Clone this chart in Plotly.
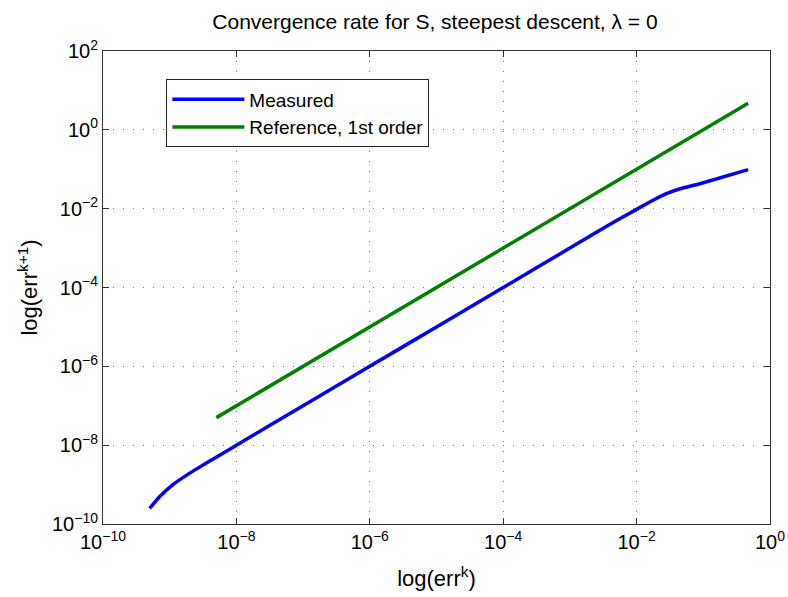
import plotly.graph_objects as go

# Data
measured_x = [5e-10, 7.1e-10, 1.12e-9, 2e-9, 3.5e-9, 6.3e-9, 1e-8, 1e-7, 1e-6, 1e-5, 1e-4,
              1e-3, 5e-3, 1e-2, 1.6e-2, 2.8e-2, 4.5e-2, 8.9e-2, 0.47]
measured_y = [2.5e-10, 5e-10, 1e-9, 1.95e-9, 3.5e-9, 6.2e-9, 1e-8, 1e-7, 1e-6, 1e-5, 1e-4,
              1e-3, 5e-3, 9.6e-3, 1.5e-2, 2.4e-2, 3.2e-2, 4.3e-2, 9.8e-2]
reference_x = [5e-9, 0.47]
reference_y = [5e-8, 4.7]

x_tickvals = [1e-10, 1e-8, 1e-6, 1e-4, 1e-2, 1e0]
x_ticktext = ["10<sup>−10</sup>", "10<sup>−8</sup>", "10<sup>−6</sup>", "10<sup>−4</sup>", "10<sup>−2</sup>", "10<sup>0</sup>"]
y_tickvals = [1e-10, 1e-8, 1e-6, 1e-4, 1e-2, 1e0, 1e2]
y_ticktext = ["10<sup>−10</sup>", "10<sup>−8</sup>", "10<sup>−6</sup>", "10<sup>−4</sup>", "10<sup>−2</sup>", "10<sup>0</sup>", "10<sup>2</sup>"]

FONT = "Liberation Sans, Arial, Helvetica, sans-serif"

fig = go.Figure()
fig.add_trace(go.Scatter(x=measured_x, y=measured_y, mode="lines", name="Measured",
                         line=dict(color="#0000ff", width=3.5, shape="spline", smoothing=0.3)))
fig.add_trace(go.Scatter(x=reference_x, y=reference_y, mode="lines", name="Reference, 1st order",
                         line=dict(color="#008000", width=3.5)))

axis_common = dict(
    type="log", showline=True, linecolor="#333", linewidth=1, mirror="allticks",
    ticks="inside", ticklen=6, tickcolor="#333", tickwidth=1,
    showgrid=True, gridcolor="#777", gridwidth=1, griddash="1px,9px",
    zeroline=False, automargin=False, tickfont=dict(family=FONT, size=20, color="black"),
)

fig.update_xaxes(range=[-10, 0], tickvals=x_tickvals, ticktext=x_ticktext,
                 title=dict(text="log(err<sup>k</sup>)", font=dict(family=FONT, size=22, color="black"), standoff=18),
                 **axis_common)
fig.update_yaxes(range=[-10, 2], tickvals=y_tickvals, ticktext=y_ticktext,
                 title=dict(text="log(err<sup>k+1</sup>)", font=dict(family=FONT, size=22, color="black"), standoff=8),
                 **axis_common)

fig.update_layout(
    width=788, height=597,
    margin=dict(l=103, r=18, t=51, b=73),
    paper_bgcolor="white", plot_bgcolor="white",
    title=dict(text="Convergence rate for S, steepest descent, λ = 0", x=0.552, xanchor="center",
               y=0.963, yanchor="middle", font=dict(family=FONT, size=21, color="black")),
    legend=dict(x=0.095, y=0.94, xanchor="left", yanchor="top",
                bordercolor="#222", borderwidth=1, bgcolor="white",
                font=dict(family=FONT, size=19, color="black"), itemwidth=72,
                tracegroupgap=0),
    showlegend=True,
)

fig.write_html("out.html")
